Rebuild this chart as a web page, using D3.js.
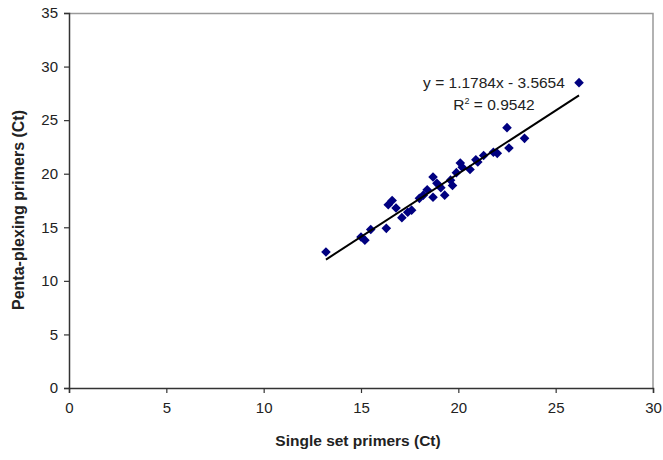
<!DOCTYPE html>
<html>
<head>
<meta charset="utf-8">
<script src="https://cdn.jsdelivr.net/npm/d3@7"></script>
<style>
  body { margin: 0; background: #fff; }
  text { font-family: "Liberation Sans", Arial, sans-serif; }
</style>
</head>
<body>
<div id="wrapper"></div>
<script>
// single set Ct vs penta-plex Ct
const singleCt = [13.2, 15.0, 15.2, 15.5, 16.3, 16.4, 16.6, 16.8, 17.1, 17.4, 17.6, 18.0,
    18.2, 18.4, 18.7, 18.7, 18.9, 19.1, 19.3, 19.6, 19.7, 19.9, 20.1, 20.2, 20.6, 20.9,
    21.0, 21.3, 21.8, 22.0, 22.5, 22.6, 23.4, 26.2];
const pentaCt = [12.7, 14.1, 13.8, 14.8, 14.9, 17.1, 17.5, 16.8, 15.9, 16.4, 16.6, 17.7,
    18.0, 18.5, 17.8, 19.7, 19.1, 18.7, 18.0, 19.4, 18.9, 20.1, 21.0, 20.6, 20.4, 21.3,
    21.1, 21.7, 22.0, 21.9, 24.3, 22.4, 23.3, 28.5];

const slope = 1.1784;
const intercept = -3.5654;
const rSquared = 0.9542;

const xTicks = [0, 5, 10, 15, 20, 25, 30];
const yTicks = [0, 5, 10, 15, 20, 25, 30, 35];

const width = 663;
const height = 460;
let dimensions = {
    margin: { top: 13, right: 10, bottom: 72, left: 69 }
};
dimensions.boundedWidth = 653 - dimensions.margin.left;
dimensions.boundedHeight = 388 - dimensions.margin.top;

const svg = d3.select("#wrapper")
    .append("svg")
    .attr("width", width)
    .attr("height", height);

const bounds = svg.append("g")
    .attr("transform", `translate(${dimensions.margin.left},${dimensions.margin.top})`);

const xScale = d3.scaleLinear().domain([0, 30]).range([0, dimensions.boundedWidth]);
const yScale = d3.scaleLinear().domain([0, 35]).range([dimensions.boundedHeight, 0]);

// frame top/right
bounds.append("path")
    .attr("d", `M0,0.5H${dimensions.boundedWidth}V${dimensions.boundedHeight}`)
    .attr("fill", "none")
    .attr("stroke", "#999")
    .attr("stroke-width", 1.5);

const xAxis = bounds.append("g")
    .attr("transform", `translate(0,${dimensions.boundedHeight})`)
    .call(d3.axisBottom(xScale).tickValues(xTicks).tickSize(5).tickPadding(9));

const yAxis = bounds.append("g")
    .call(d3.axisLeft(yScale).tickValues(yTicks).tickSize(5).tickPadding(6));

[xAxis, yAxis].forEach(ax => {
    ax.select(".domain").attr("stroke", "#333").attr("stroke-width", 1.5);
    ax.selectAll(".tick line").attr("stroke", "#333").attr("stroke-width", 1.2);
    ax.selectAll(".tick text")
        .style("font-family", "'Liberation Sans', Arial, sans-serif")
        .style("font-size", "15px")
        .attr("fill", "#222");
});

// points
const pts = singleCt.map((x, i) => [x, pentaCt[i]]);
bounds.append("g")
    .selectAll("path")
    .data(pts)
    .enter()
    .append("path")
    .attr("transform", d => `translate(${xScale(d[0])},${yScale(d[1])})`)
    .attr("d", "M0,-4.8L4.8,0L0,4.8L-4.8,0Z")
    .attr("fill", "#000080");

// linear trendline
const xMin = d3.min(singleCt), xMax = d3.max(singleCt);
bounds.append("line")
    .attr("x1", xScale(xMin))
    .attr("y1", yScale(slope * xMin + intercept))
    .attr("x2", xScale(xMax))
    .attr("y2", yScale(slope * xMax + intercept))
    .attr("stroke", "#000")
    .attr("stroke-width", 2);

// equation label
svg.append("text")
    .attr("x", 494).attr("y", 88)
    .attr("text-anchor", "middle")
    .style("font-size", "15.5px")
    .attr("fill", "#222")
    .text(`y = ${slope}x - ${Math.abs(intercept)}`);

const r2 = svg.append("text")
    .attr("x", 494).attr("y", 110)
    .attr("text-anchor", "middle")
    .style("font-size", "15.5px")
    .attr("fill", "#222");
r2.append("tspan").text("R");
r2.append("tspan").attr("dy", -6).style("font-size", "9px").text("2");
r2.append("tspan").attr("dy", 6).text(` = ${rSquared}`);

// axis titles
svg.append("text")
    .attr("x", 358).attr("y", 446)
    .attr("text-anchor", "middle")
    .style("font-size", "15.5px")
    .style("font-weight", "bold")
    .attr("fill", "#222")
    .text("Single set primers (Ct)");

svg.append("text")
    .attr("transform", "translate(24,210) rotate(-90)")
    .attr("text-anchor", "middle")
    .style("font-size", "16px")
    .style("font-weight", "bold")
    .attr("fill", "#222")
    .text("Penta-plexing primers (Ct)");
</script>
</body>
</html>
